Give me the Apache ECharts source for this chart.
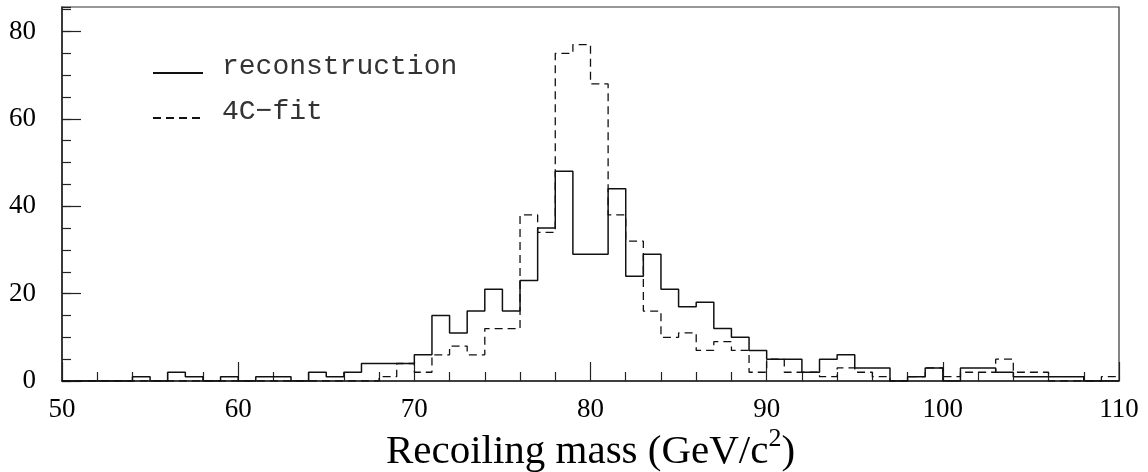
<!DOCTYPE html>
<html><head><meta charset="utf-8">
<script src="https://cdn.jsdelivr.net/npm/echarts@6/dist/echarts.min.js"></script>
<style>html,body{margin:0;padding:0;background:#fff}#c{width:1148px;height:472px}</style>
</head><body><div id="c"></div>
<script>
// Bin lower edges (GeV/c^2), bin width 1
const binLow = [50,51,52,53,54,55,56,57,58,59,60,61,62,63,64,65,66,67,68,69,
  70,71,72,73,74,75,76,77,78,79,80,81,82,83,84,85,86,87,88,89,
  90,91,92,93,94,95,96,97,98,99,100,101,102,103,104,105,106,107,108,109];
const binWidth = 1;
// reconstruction (solid)
const reconstruction = [0,0,0,0,1,0,2,1,0,1, 0,1,1,0,2,1,2,4,4,4,
  6,15,11,16,21,16,23,35,48,29, 29,44,24,29,21,17,18,12,10,7,
  5,5,2,5,6,3,3,0,1,3, 0,3,3,2,1,1,1,1,0,0];
// 4C-fit (dashed)
const fit4C = [0,0,0,0,0,0,0,0,0,0, 0,0,0,0,0,0,0,0,1,4,
  2,6,8,6,12,12,38,34,75,77, 68,38,32,16,10,11,7,9,7,2,
  5,2,2,1,3,2,1,0,1,3, 1,2,2,5,2,2,0,0,0,1];
const xTickLabels = [50,60,70,80,90,100,110];
const yTickLabels = [0,20,40,60,80];

function steps(vals){
  const d = binLow.map((x,i)=>[x, vals[i]]);
  d.push([binLow[binLow.length-1]+binWidth, vals[vals.length-1]]);
  return d;
}

const chart = echarts.init(document.getElementById('c'), null, {renderer:'canvas'});
const axisCol = '#222';
chart.setOption({
  animation:false,
  backgroundColor:'#fff',
  grid:{left:62,right:29,top:7,bottom:91,show:true,borderColor:'#333',borderWidth:1.2,
    backgroundColor:'transparent',containLabel:false,outerBoundsMode:'none'},
  legend:{
    orient:'vertical', left:147, top:48, itemWidth:50, itemHeight:12, itemGap:17,
    selectedMode:false,
    itemStyle:{opacity:0},
    formatter:name=>'{t|'+name+'}',
    textStyle:{rich:{t:{fontFamily:'Liberation Mono', fontSize:28, color:'#333', padding:[0,0,12,14]}}},
    data:['reconstruction','4C\u2212fit']
  },
  xAxis:{
    type:'value', min:50, max:110, interval:10,
    axisLine:{lineStyle:{color:axisCol,width:1.5}},
    axisTick:{inside:true,length:19,lineStyle:{color:axisCol,width:1.2}},
    minorTick:{show:true,splitNumber:5,length:9,lineStyle:{color:axisCol,width:1.2}},
    splitLine:{show:false},
    axisLabel:{margin:15,fontFamily:'Liberation Serif',fontSize:27,color:'#000',
      formatter:v=> xTickLabels.indexOf(v)>=0 ? String(v) : ''},
    name:'{a|Recoiling mass (GeV/c}{s|2}{a|)}', nameLocation:'middle', nameGap:45,
    nameMoveOverlap:false,
    nameTextStyle:{rich:{
      a:{fontFamily:'Liberation Serif',fontSize:41,color:'#000'},
      s:{fontFamily:'Liberation Serif',fontSize:26,color:'#000',padding:[0,0,26,0]}
    }}
  },
  yAxis:[{
    type:'value', min:0, max:85.6, interval:20,
    axisLine:{show:true,lineStyle:{color:axisCol,width:1.5}},
    axisTick:{inside:true,length:19,lineStyle:{color:axisCol,width:1.2}},
    splitLine:{show:false},
    axisLabel:{margin:26,fontFamily:'Liberation Serif',fontSize:27,color:'#000',
      showMaxLabel:false,
      formatter:v=> yTickLabels.indexOf(v)>=0 ? String(v) : ''}
  },{
    type:'value', min:0, max:85.6, interval:5, position:'left', offset:0,
    axisLine:{show:false},
    axisTick:{inside:true,length:9,lineStyle:{color:axisCol,width:1.2}},
    splitLine:{show:false},
    axisLabel:{show:false}
  }],
  series:[{
    name:'reconstruction', type:'line', step:'end', symbol:'none', yAxisIndex:0,
    itemStyle:{color:'#111'},
    lineStyle:{color:'#111',width:1.5},
    data:steps(reconstruction)
  },{
    name:'4C\u2212fit', type:'line', step:'end', symbol:'none', yAxisIndex:0,
    itemStyle:{color:'#111'},
    lineStyle:{color:'#111',width:1.3,type:[8,5]},
    data:steps(fit4C)
  }]
});
</script></body></html>
